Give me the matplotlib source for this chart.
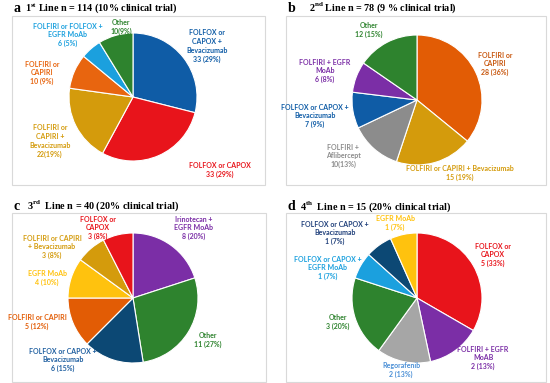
import matplotlib
matplotlib.use('Agg')
import matplotlib.pyplot as plt
from matplotlib.patches import Rectangle

plt.rcParams['mathtext.fontset'] = 'custom'
plt.rcParams['mathtext.rm'] = 'Liberation Serif:bold'
plt.rcParams['mathtext.bf'] = 'Liberation Serif:bold'

# ---- data ----
a_labels = ['FOLFOX or\nCAPOX +\nBevacizumab', 'FOLFOX or CAPOX', 'FOLFIRI or\nCAPIRI +\nBevacizumab',
            'FOLFIRI or\nCAPIRI', 'FOLFIRI or FOLFOX +\nEGFR MoAb', 'Other']
a_values = [33, 33, 22, 10, 6, 10]
a_pcts = ['33 (29%)', '33 (29%)', '22(19%)', '10 (9%)', '6 (5%)', '10(9%)']

b_labels = ['FOLFIRI or\nCAPIRI', 'FOLFIRI or CAPIRI + Bevacizumab', 'FOLFIRI +\nAflibercept',
            'FOLFOX or CAPOX +\nBevacizumab', 'FOLFIRI + EGFR\nMoAb', 'Other']
b_values = [28, 15, 10, 7, 6, 12]
b_pcts = ['28 (36%)', '15 (19%)', '10(13%)', '7 (9%)', '6 (8%)', '12 (15%)']

c_labels = ['Irinotecan +\nEGFR MoAb', 'Other', 'FOLFOX or CAPOX +\nBevacizumab', 'FOLFIRI or CAPIRI',
            'EGFR MoAb', 'FOLFIRI or CAPIRI\n+ Bevacizumab', 'FOLFOX or\nCAPOX']
c_values = [8, 11, 6, 5, 4, 3, 3]
c_pcts = ['8 (20%)', '11 (27%)', '6 (15%)', '5 (12%)', '4 (10%)', '3 (8%)', '3 (8%)']

d_labels = ['FOLFOX or\nCAPOX', 'FOLFIRI + EGFR\nMoAB', 'Regorafenib', 'Other',
            'FOLFOX or CAPOX +\nEGFR MoAb', 'FOLFOX or CAPOX +\nBevacizumab', 'EGFR MoAb']
d_values = [5, 2, 2, 3, 1, 1, 1]
d_pcts = ['5 (33%)', '2 (13%)', '2 (13%)', '3 (20%)', '1 (7%)', '1 (7%)', '1 (7%)']

titles = [('a', r'1$^{\mathrm{st}}$ Line n = 114 (10% clinical trial)'),
          ('b', r'2$^{\mathrm{nd}}$ Line n = 78 (9 % clinical trial)'),
          ('c', r'3$^{\mathrm{rd}}$  Line n = 40 (20% clinical trial)'),
          ('d', r'4$^{\mathrm{th}}$  Line n = 15 (20% clinical trial)')]

# ---- styles / layout (pixel coords, y from top) ----
blue = '#0F5CA6'
red = '#E8141B'
gold = '#D49B0C'
orange = '#E8650F'
lblue = '#1BA0DE'
green = '#2E832E'
purple = '#7B2EA6'
gray = '#8C8C8C'
lgray = '#A6A6A6'
dblue = '#0C4874'
yellow = '#FFC20E'
dorange = '#E25C05'

panels = [
    dict(values=a_values, labels=a_labels, pcts=a_pcts,
         colors=[blue, red, gold, orange, lblue, green],
         tcolors=[blue, red, gold, orange, lblue, green],
         center=(133, 97), r=64, box=(12, 16, 265, 185),
         pos=[(207, 46), (220, 170), (50, 141), (42, 73), (68, 35), (121, 27)]),
    dict(values=b_values, labels=b_labels, pcts=b_pcts,
         colors=[dorange, gold, gray, blue, purple, green],
         tcolors=['#C8570E', gold, gray, blue, purple, green],
         center=(417, 100), r=65, box=(286, 16, 546, 185),
         pos=[(495, 64), (460, 173), (343, 156), (315, 116), (325, 71), (369, 30)]),
    dict(values=c_values, labels=c_labels, pcts=c_pcts,
         colors=[purple, green, dblue, dorange, yellow, gold, red],
         tcolors=[purple, green, '#1F5FA0', dorange, yellow, gold, red],
         center=(133, 298), r=65, box=(12, 213, 266, 382),
         pos=[(194, 228), (208, 340), (63, 360), (37, 322), (47, 278), (52, 247), (98, 228)]),
    dict(values=d_values, labels=d_labels, pcts=d_pcts,
         colors=[red, purple, lgray, green, lblue, dblue, yellow],
         tcolors=[red, purple, '#4A8FD6', green, lblue, '#1F3F7A', yellow],
         center=(417, 298), r=65, box=(286, 213, 546, 382),
         pos=[(493, 255), (483, 358), (401, 370), (338, 322), (328, 268), (335, 233), (395, 223)]),
]
title_pos = [((13, 8), (25, 8)), ((288, 8), (309, 8)), ((13, 206), (27, 206)), ((288, 207), (300, 207))]

W, H = 550, 383
fig = plt.figure(figsize=(5.5, 3.83), dpi=100)
ax = fig.add_axes([0, 0, 1, 1])

for p, (letter, title), (lp, tp) in zip(panels, titles, title_pos):
    x0, y0, x1, y1 = p['box']
    ax.add_patch(Rectangle((x0, H - y1), x1 - x0, y1 - y0, fill=False,
                           edgecolor='#D9D9D9', lw=0.8))
    cx, cy = p['center']
    ax.pie(p['values'], colors=p['colors'], startangle=90, counterclock=False,
           center=(cx, H - cy), radius=p['r'], frame=True,
           wedgeprops=dict(edgecolor='white', linewidth=0.8))
    for lab, pct, col, (tx, ty) in zip(p['labels'], p['pcts'], p['tcolors'], p['pos']):
        ax.text(tx, H - ty, lab + '\n' + pct, ha='center', va='center', color=col,
                fontsize=5.0, fontweight='bold', family='Lato', linespacing=1.3)
    ax.text(lp[0], H - lp[1], letter, ha='left', va='center', fontsize=10,
            family='Liberation Serif', fontweight='bold')
    ax.text(tp[0], H - tp[1], title, ha='left', va='center', fontsize=7.3,
            family='Liberation Serif', fontweight='bold')

ax.set_xlim(0, W)
ax.set_ylim(0, H)
ax.set_aspect('auto')
ax.axis('off')

fig.savefig('out.png', dpi=100, facecolor='white')
